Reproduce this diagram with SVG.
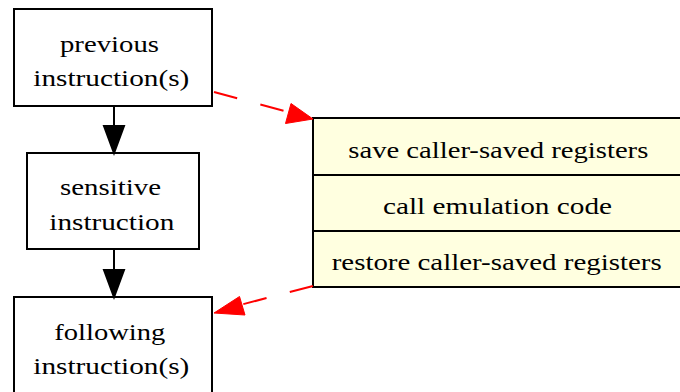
<svg xmlns="http://www.w3.org/2000/svg" width="680" height="392" viewBox="0 0 680 392">
  <defs>
    <style>
      .box { fill: #ffffff; stroke: #000000; stroke-width: 2; }
      .rec { fill: #ffffe0; stroke: #000000; stroke-width: 2; }
      .lbl { font-family: 'Liberation Serif', 'Times New Roman', Times, serif; font-size: 24px; fill: #000000; }
      .flow { stroke: #000000; stroke-width: 2; fill: none; }
      .jump { stroke: #ff0000; stroke-width: 2; fill: none; stroke-dasharray: 24 24; }
    </style>
  </defs>

  <!-- instruction stream -->
  <g id="previous">
    <rect class="box" x="14" y="9" width="198" height="97"/>
    <text class="lbl" x="60" y="52" textLength="99" lengthAdjust="spacingAndGlyphs">previous</text>
    <text class="lbl" x="33.3" y="86" textLength="156" lengthAdjust="spacingAndGlyphs">instruction(s)</text>
  </g>

  <g id="sensitive">
    <rect class="box" x="27" y="153" width="172" height="96"/>
    <text class="lbl" x="60" y="195" textLength="101" lengthAdjust="spacingAndGlyphs">sensitive</text>
    <text class="lbl" x="49.3" y="230" textLength="125" lengthAdjust="spacingAndGlyphs">instruction</text>
  </g>

  <g id="following">
    <rect class="box" x="14" y="297" width="198" height="100"/>
    <text class="lbl" x="54.3" y="340" textLength="111" lengthAdjust="spacingAndGlyphs">following</text>
    <text class="lbl" x="33.3" y="374" textLength="156" lengthAdjust="spacingAndGlyphs">instruction(s)</text>
  </g>

  <!-- emulation stub record -->
  <g id="stub">
    <rect class="rec" x="313" y="118" width="370" height="169"/>
    <line class="flow" x1="313" y1="175" x2="683" y2="175"/>
    <line class="flow" x1="313" y1="231" x2="683" y2="231"/>
    <text class="lbl" x="348.3" y="158" textLength="300" lengthAdjust="spacingAndGlyphs">save caller-saved registers</text>
    <text class="lbl" x="383" y="214" textLength="229" lengthAdjust="spacingAndGlyphs">call emulation code</text>
    <text class="lbl" x="331.7" y="270" textLength="330" lengthAdjust="spacingAndGlyphs">restore caller-saved registers</text>
  </g>

  <!-- connectors -->
  <g id="edges">
    <line class="flow" x1="114" y1="106" x2="114" y2="127"/>
    <polygon points="104,126 124,126 114,153" fill="#000000" stroke="#000000" stroke-width="2"/>
    <line class="flow" x1="114" y1="249" x2="114" y2="271"/>
    <polygon points="104,270 124,270 114,297" fill="#000000" stroke="#000000" stroke-width="2"/>

    <line class="jump" x1="214" y1="92" x2="288" y2="112"/>
    <polygon points="313,119 285.5,123.5 291,103.5" fill="#ff0000" stroke="#ff0000" stroke-width="1"/>

    <line class="jump" x1="313" y1="286" x2="240" y2="305"/>
    <polygon points="214,313 239.5,296.5 245,315" fill="#ff0000" stroke="#ff0000" stroke-width="1"/>
  </g>
</svg>
